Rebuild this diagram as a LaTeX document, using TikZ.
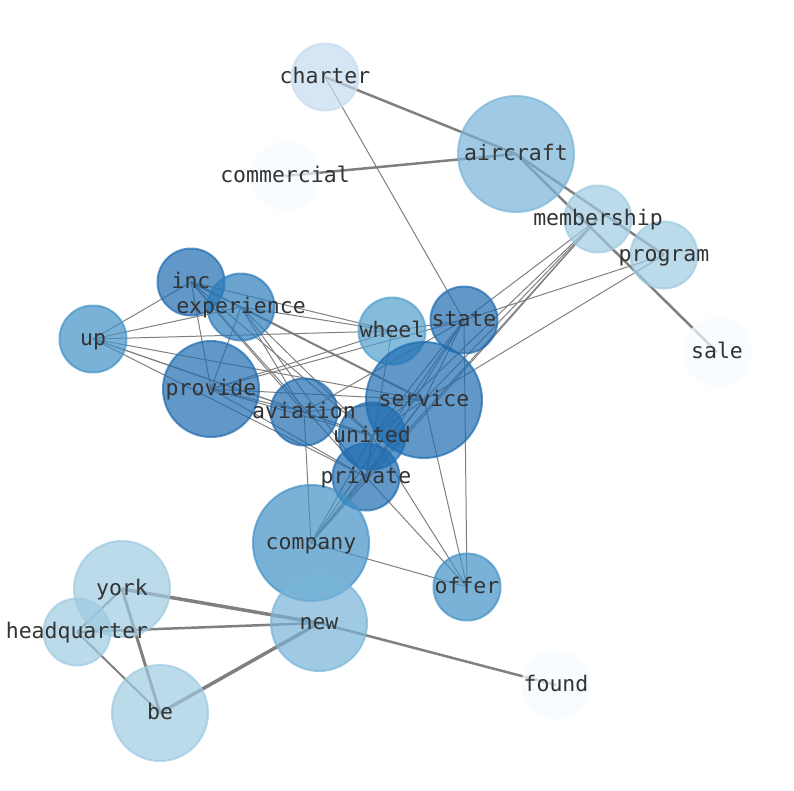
\documentclass[tikz,border=0pt]{standalone}
\usepackage{fontspec}
\setmonofont{DejaVu Sans Mono}
\usetikzlibrary{backgrounds}

\definecolor{bluesA}{HTML}{F7FBFF}
\definecolor{bluesB}{HTML}{C6DBEF}
\definecolor{bluesC}{HTML}{9ECAE1}
\definecolor{bluesD}{RGB}{120,180,217}
\definecolor{bluesE}{HTML}{519FCD}
\definecolor{bluesF}{HTML}{4292C6}
\definecolor{bluesG}{HTML}{2C7CBA}
\definecolor{bluesH}{HTML}{1F6CB0}
\definecolor{wordgray}{RGB}{51,51,51}

\tikzset{
  bubble/.style={circle, inner sep=0pt, line width=2pt, fill=#1, draw=#1, fill opacity=0.7, draw opacity=0.7},
  small/.style={minimum size=67pt},
  mid/.style={minimum size=96pt},
  big/.style={minimum size=116pt},
  word/.style={text=wordgray, font=\ttfamily\fontsize{21.5}{24}\selectfont, inner sep=0pt, text height=17pt, text depth=4pt},
  edge/.style={draw=gray, line width=1pt},
  heavy/.style={draw=gray, line width=#1},
}

\begin{document}
\begin{tikzpicture}[x=1pt, y=-1pt]
  \useasboundingbox (0,0) rectangle (794,790);
  % Nodes
  \node (charter) [bubble=bluesB, small] at (325, 77) {};
  \node (aircraft) [bubble=bluesD, big] at (516, 154) {};
  \node (commercial) [bubble=bluesA, small] at (285, 176) {};
  \node (membership) [bubble=bluesC, small] at (598, 219) {};
  \node (program) [bubble=bluesC, small] at (664, 255) {};
  \node (sale) [bubble=bluesA, small] at (717, 352) {};
  \node (inc) [bubble=bluesH, small] at (191, 282) {};
  \node (experience) [bubble=bluesG, small] at (241, 307) {};
  \node (up) [bubble=bluesF, small] at (93, 339) {};
  \node (wheel) [bubble=bluesE, small] at (392, 331) {};
  \node (state) [bubble=bluesH, small] at (464, 320) {};
  \node (provide) [bubble=bluesH, mid] at (211, 389) {};
  \node (aviation) [bubble=bluesH, small] at (304, 412) {};
  \node (service) [bubble=bluesH, big] at (424, 400) {};
  \node (united) [bubble=bluesH, small] at (372, 436) {};
  \node (private) [bubble=bluesH, small] at (366, 477) {};
  \node (company) [bubble=bluesF, big] at (311, 543) {};
  \node (offer) [bubble=bluesF, small] at (467, 587) {};
  \node (york) [bubble=bluesC, mid] at (122, 589) {};
  \node (headquarter) [bubble=bluesC, small] at (77, 632) {};
  \node (new) [bubble=bluesD, mid] at (319, 623) {};
  \node (be) [bubble=bluesC, mid] at (160, 713) {};
  \node (found) [bubble=bluesA, small] at (556, 685) {};
  % Labels
  \node (t-charter) [word] at (charter) {charter};
  \node (t-aircraft) [word] at (aircraft) {aircraft};
  \node (t-commercial) [word] at (commercial) {commercial};
  \node (t-membership) [word] at (membership) {membership};
  \node (t-program) [word] at (program) {program};
  \node (t-sale) [word] at (sale) {sale};
  \node (t-inc) [word] at (inc) {inc};
  \node (t-experience) [word] at (experience) {experience};
  \node (t-up) [word] at (up) {up};
  \node (t-wheel) [word] at (wheel) {wheel};
  \node (t-state) [word] at (state) {state};
  \node (t-provide) [word] at (provide) {provide};
  \node (t-aviation) [word] at (aviation) {aviation};
  \node (t-service) [word] at (service) {service};
  \node (t-united) [word] at (united) {united};
  \node (t-private) [word] at (private) {private};
  \node (t-company) [word] at (company) {company};
  \node (t-offer) [word] at (offer) {offer};
  \node (t-york) [word] at (york) {york};
  \node (t-headquarter) [word] at (headquarter) {headquarter};
  \node (t-new) [word] at (new) {new};
  \node (t-be) [word] at (be) {be};
  \node (t-found) [word] at (found) {found};
  % Edges
  \begin{scope}[on background layer]
    \draw[heavy=2.5pt] (charter.center) -- (aircraft.center);
    \draw[heavy=2.5pt] (commercial.center) -- (aircraft.center);
    \draw[heavy=2.5pt] (aircraft.center) -- (program.center);
    \draw[heavy=2.5pt] (aircraft.center) -- (sale.center);
    \draw[heavy=3.5pt] (york.center) -- (new.center);
    \draw[heavy=3pt] (york.center) -- (be.center);
    \draw[heavy=2pt] (york.center) -- (headquarter.center);
    \draw[heavy=2.5pt] (headquarter.center) -- (new.center);
    \draw[heavy=2pt] (headquarter.center) -- (be.center);
    \draw[heavy=3.5pt] (be.center) -- (new.center);
    \draw[heavy=2.5pt] (new.center) -- (found.center);
    \draw[heavy=2pt] (inc.center) -- (service.center);
    \draw[edge] (charter.center) -- (state.center);
    \draw[edge] (membership.center) -- (state.center);
    \draw[edge] (membership.center) -- (service.center);
    \draw[edge] (membership.center) -- (united.center);
    \draw[edge] (membership.center) -- (private.center);
    \draw[edge] (membership.center) -- (company.center);
    \draw[edge] (program.center) -- (state.center);
    \draw[edge] (program.center) -- (service.center);
    \draw[edge] (up.center) -- (inc.center);
    \draw[edge] (up.center) -- (experience.center);
    \draw[edge] (up.center) -- (wheel.center);
    \draw[edge] (up.center) -- (service.center);
    \draw[edge] (up.center) -- (aviation.center);
    \draw[edge] (up.center) -- (united.center);
    \draw[edge] (up.center) -- (private.center);
    \draw[edge] (inc.center) -- (provide.center);
    \draw[edge] (inc.center) -- (wheel.center);
    \draw[edge] (inc.center) -- (aviation.center);
    \draw[edge] (inc.center) -- (united.center);
    \draw[edge] (inc.center) -- (private.center);
    \draw[edge] (experience.center) -- (wheel.center);
    \draw[edge] (experience.center) -- (provide.center);
    \draw[edge] (experience.center) -- (aviation.center);
    \draw[edge] (experience.center) -- (united.center);
    \draw[edge] (experience.center) -- (private.center);
    \draw[edge] (experience.center) -- (service.center);
    \draw[edge] (provide.center) -- (state.center);
    \draw[edge] (provide.center) -- (wheel.center);
    \draw[edge] (provide.center) -- (service.center);
    \draw[edge] (provide.center) -- (aviation.center);
    \draw[edge] (provide.center) -- (united.center);
    \draw[edge] (provide.center) -- (private.center);
    \draw[edge] (aviation.center) -- (state.center);
    \draw[edge] (aviation.center) -- (service.center);
    \draw[edge] (aviation.center) -- (company.center);
    \draw[edge] (aviation.center) -- (united.center);
    \draw[edge] (wheel.center) -- (private.center);
    \draw[edge] (wheel.center) -- (state.center);
    \draw[edge] (state.center) -- (service.center);
    \draw[edge] (state.center) -- (united.center);
    \draw[edge] (state.center) -- (private.center);
    \draw[edge] (state.center) -- (company.center);
    \draw[edge] (service.center) -- (united.center);
    \draw[edge] (service.center) -- (private.center);
    \draw[edge] (service.center) -- (company.center);
    \draw[edge] (united.center) -- (private.center);
    \draw[edge] (united.center) -- (company.center);
    \draw[edge] (private.center) -- (company.center);
    \draw[edge] (company.center) -- (offer.center);
    \draw[edge] (private.center) -- (offer.center);
    \draw[edge] (united.center) -- (offer.center);
    \draw[edge] (service.center) -- (offer.center);
    \draw[edge] (state.center) -- (offer.center);
  \end{scope}
\end{tikzpicture}
\end{document}
